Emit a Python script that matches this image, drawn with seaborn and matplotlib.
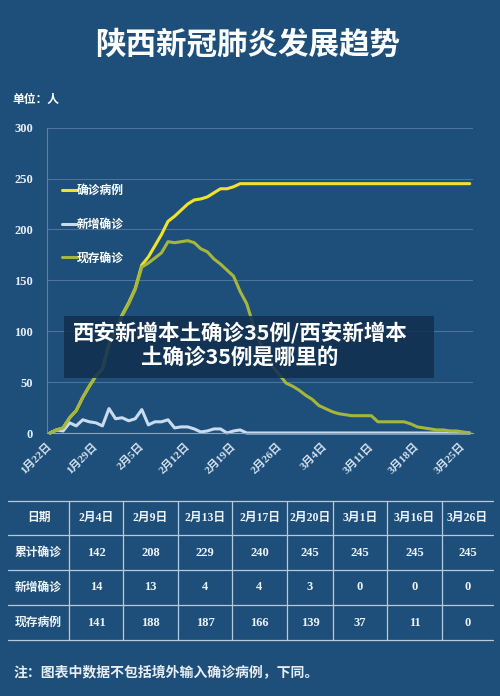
import matplotlib
matplotlib.use("Agg")
import matplotlib.pyplot as plt
import matplotlib.transforms as mtransforms
from matplotlib.patches import Rectangle
import seaborn as sns
import pandas as pd

# 数据：2020-01-22 ~ 2020-03-26
dates = pd.date_range("2020-01-22", "2020-03-26", freq="D")
confirmed = [0, 3, 5, 15, 22, 35, 46, 56, 63, 87, 101, 116, 128, 142, 165, 173, 184, 195, 208,
             213, 219, 225, 229, 230, 232, 236, 240, 240, 242, 245] + [245] * 35
new_cases = [0, 3, 2, 10, 7, 13, 11, 10, 7, 24, 14, 15, 12, 14, 23, 8, 11, 11, 13,
             5, 6, 6, 4, 1, 2, 4, 4, 0, 2, 3] + [0] * 35
current = [0, 3, 5, 15, 22, 35, 46, 56, 63, 87, 100, 115, 127, 141, 163, 167, 172, 177, 188,
           187, 188, 189, 187, 181, 178, 171, 166, 160, 154, 139, 127, 106, 89, 76, 65,
           57, 49, 46, 42, 37, 33, 27, 24, 21, 19, 18, 17, 17, 17, 17, 11, 11, 11, 11, 11,
           9, 6, 5, 4, 3, 3, 2, 2, 1, 0]
series_names = ["确诊病例", "新增确诊", "现存确诊"]
series_colors = ["#f2e22c", "#c9dbee", "#a6b63c"]

# 表格数据
table_dates = ["2月4日", "2月9日", "2月13日", "2月17日", "2月20日", "3月1日", "3月16日", "3月26日"]
table_cum = [142, 208, 229, 240, 245, 245, 245, 245]
table_new = [14, 13, 4, 4, 3, 0, 0, 0]
table_cur = [141, 188, 187, 166, 139, 37, 11, 0]
row_names = ["日期", "累计确诊", "新增确诊", "现存病例"]

bg = "#1d4f7a"
sns.set_style("dark", rc={"axes.facecolor": bg, "figure.facecolor": bg})
plt.rcParams["font.family"] = ["Noto Sans CJK SC", "DejaVu Sans"]
serif = ["Liberation Serif", "Noto Sans CJK SC"]

days = list(range(len(dates)))
df = pd.DataFrame({
    "day": days * 3,
    "value": confirmed + new_cases + current,
    "series": [series_names[0]] * len(days) + [series_names[1]] * len(days) + [series_names[2]] * len(days),
})

fig = plt.figure(figsize=(5.0, 6.96), dpi=100)
W, H = 500, 696
ax = fig.add_axes([46.7 / W, 1 - 433 / H, (473 - 46.7) / W, (433 - 127.7) / H])
sns.lineplot(data=df, x="day", y="value", hue="series", hue_order=series_names,
             palette=series_colors, linewidth=2.2, ax=ax, sort=False)
for ln in ax.get_lines():
    ln.set_clip_on(False)

ax.set_xlim(-0.5, 64.5)
ax.set_ylim(0, 300)
ax.set_yticks(range(0, 301, 50))
ax.set_yticklabels([str(v) for v in range(0, 301, 50)], family=serif, fontweight="bold",
                   fontsize=9, color="#e8eef6")
tick_days = list(range(0, 65, 7))
ax.set_xticks([d - 0.5 for d in tick_days])
ax.set_xticklabels([f"{dates[d].month}月{dates[d].day}日" for d in tick_days], family=serif,
                   fontweight="bold", fontsize=8, color="#d6e2ee", rotation=45,
                   ha="right", rotation_mode="anchor")
offset = mtransforms.ScaledTranslation(5 / 100, -2 / 100, fig.dpi_scale_trans)
for lab in ax.get_xticklabels():
    lab.set_transform(lab.get_transform() + offset)
ax.tick_params(axis="x", length=3, width=0.8, color="#8aa6c1", pad=3)
ax.tick_params(axis="y", length=0, pad=10)
ax.set_xlabel("")
ax.set_ylabel("")
ax.grid(axis="y", color="#4d7398", linewidth=0.8)
ax.grid(axis="x", visible=False)
for side in ["top", "right"]:
    ax.spines[side].set_visible(False)
ax.spines["left"].set_color("#5d82a6")
ax.spines["left"].set_linewidth(0.8)
ax.spines["bottom"].set_color("#8aa6c1")
ax.spines["bottom"].set_linewidth(0.8)

handles, labels = ax.get_legend_handles_labels()
leg = ax.legend(handles, labels, loc="upper left", bbox_to_anchor=(0.035, 0.815),
                frameon=False, handlelength=1.3, handletextpad=0.0,
                labelspacing=1.75, borderpad=0, borderaxespad=0,
                prop={"weight": "bold", "size": 8.5})
for t in leg.get_texts():
    t.set_color("white")
for h in leg.get_lines():
    h.set_linewidth(2.2)

# 像素坐标的覆盖层
ov = fig.add_axes([0, 0, 1, 1], zorder=5)
ov.set_xlim(0, W)
ov.set_ylim(H, 0)
ov.axis("off")
ov.patch.set_visible(False)

ov.text(248, 45, "陕西新冠肺炎发展趋势", ha="center", va="center", fontsize=22,
        fontweight="bold", color="white")
ov.text(12, 99, "单位：人", ha="left", va="center", fontsize=8.5, fontweight="bold",
        color="white")

ov.add_patch(Rectangle((64, 316), 370, 62, facecolor="#12304f", alpha=0.88, edgecolor="none"))
ov.text(240, 333, "西安新增本土确诊35例/西安新增本", ha="center", va="center", fontsize=15.5,
        fontweight="bold", color="white")
ov.text(240, 357, "土确诊35例是哪里的", ha="center", va="center", fontsize=15.5,
        fontweight="bold", color="white")

# 表格
col_edges = [8, 69, 123, 178, 232, 287, 333, 387, 442, 493]
row_edges = [500.7, 535, 570, 605, 640]
grid_c = "#b9c9d9"
for y in row_edges:
    ov.plot([col_edges[0], col_edges[-1]], [y, y], color=grid_c, linewidth=0.9)
for x in col_edges[1:-1]:
    ov.plot([x, x], [row_edges[0], row_edges[-1]], color=grid_c, linewidth=0.9)
rows = [table_dates, table_cum, table_new, table_cur]
for r, (name, vals) in enumerate(zip(row_names, rows)):
    yc = (row_edges[r] + row_edges[r + 1]) / 2
    ov.text((col_edges[0] + col_edges[1]) / 2, yc, name, ha="center", va="center",
            fontsize=8.5, fontweight="bold", color="#eef3f8")
    for c, v in enumerate(vals):
        xc = (col_edges[c + 1] + col_edges[c + 2]) / 2
        ov.text(xc, yc, str(v), ha="center", va="center", family=serif,
                fontsize=9 if r else 8.5, fontweight="bold", color="#eef3f8")

ov.text(13, 673, "注：图表中数据不包括境外输入确诊病例，下同。", ha="left", va="center",
        fontsize=10, fontweight="bold", color="#e8eef4")

fig.savefig("out.png", dpi=100, facecolor=bg)
